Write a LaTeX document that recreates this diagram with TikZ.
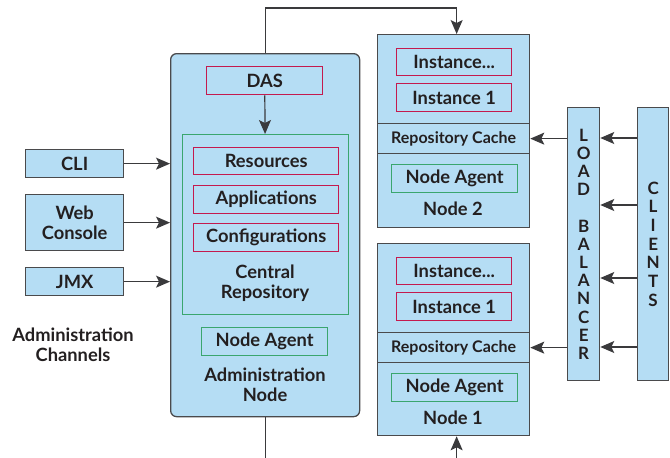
\documentclass[tikz,border=0pt]{standalone}
\usepackage{fontspec}
\setmainfont{Lato}
\usetikzlibrary{arrows.meta}
\definecolor{boxc}{HTML}{B5DDF4}
\definecolor{bordc}{HTML}{4A4A4C}
\definecolor{redc}{HTML}{C41A4E}
\definecolor{greenc}{HTML}{3AA66E}
\definecolor{txtc}{HTML}{231F20}
\definecolor{linec}{HTML}{3A3A3C}
\begin{document}
\begin{tikzpicture}[x=1pt,y=-1pt,
  lbl/.style={text=txtc,font=\bfseries\fontsize{18.3}{20}\selectfont,align=center,inner sep=0pt},
  outer/.style={draw=bordc,fill=boxc,line width=1.3pt,anchor=north west,inner sep=0pt,lbl},
  redbox/.style={draw=redc,fill=boxc,line width=1.4pt,anchor=north west,inner sep=0pt,lbl},
  greenbox/.style={draw=greenc,fill=boxc,line width=1.4pt,anchor=north west,inner sep=0pt,lbl},
  cachebox/.style={draw=bordc,fill=boxc,line width=1.3pt,anchor=north west,inner sep=0pt,lbl,font=\bfseries\fontsize{16}{18}\selectfont},
  arr/.style={draw=linec,line width=1.2pt,-{Stealth[length=14pt,width=12pt,inset=3pt]}},
  plain/.style={draw=linec,line width=1.2pt}]
\useasboundingbox (0,0) rectangle (670,458);

% Administration node
\node[outer,rounded corners=6pt,minimum width=189,minimum height=363] (admin) at (170,53) {};
\node[redbox,minimum width=116,minimum height=28] (das) at (206,66) {DAS};
\node[greenbox,minimum width=166,minimum height=180] (cr) at (182,134) {};
\node[redbox,minimum width=145,minimum height=27] (res) at (193,147) {Resources};
\node[redbox,minimum width=145,minimum height=28] (app) at (193,185) {Applications};
\node[redbox,minimum width=145,minimum height=28] (conf) at (193,223) {Configurations};
\node[lbl] (crlbl) at (265,283) {Central\\Repository};
\node[greenbox,minimum width=126,minimum height=28] (naadm) at (201,327) {Node Agent};
\node[lbl] (admlbl) at (265,385) {Administration\\Node};

% Channels
\node[outer,minimum width=98,minimum height=28] (cli) at (25,149) {CLI};
\node[outer,minimum width=98,minimum height=56] (web) at (25,194) {Web\\Console};
\node[outer,minimum width=98,minimum height=28] (jmx) at (25,267) {JMX};
\node[lbl] (chlbl) at (73,345) {Administration\\Channels};

% Node 2
\node[outer,minimum width=152,minimum height=193] (node2) at (377,34) {};
\node[redbox,minimum width=115,minimum height=27] (inst2a) at (396,48) {Instance...};
\node[redbox,minimum width=115,minimum height=28] (inst2b) at (396,83) {Instance 1};
\node[cachebox,minimum width=152,minimum height=30] (rc2) at (377,123) {Repository Cache};
\node[greenbox,minimum width=126,minimum height=28] (na2) at (391,164) {Node Agent};
\node[lbl] (n2lbl) at (453,209) {Node 2};

% Node 1
\node[outer,minimum width=152,minimum height=192] (node1) at (377,243) {};
\node[redbox,minimum width=115,minimum height=27] (inst1a) at (396,257) {Instance...};
\node[redbox,minimum width=115,minimum height=28] (inst1b) at (396,292) {Instance 1};
\node[cachebox,minimum width=152,minimum height=30] (rc1) at (377,332) {Repository Cache};
\node[greenbox,minimum width=126,minimum height=28] (na1) at (391,373) {Node Agent};
\node[lbl] (n1lbl) at (453,418) {Node 1};

% Load balancer and clients
\node[outer,minimum width=32,minimum height=273] (lb) at (567,107) {};
\node[lbl,font=\bfseries\fontsize{17}{18.2}\selectfont] (lbtxt) at (lb.center) {L\\O\\A\\D\\~\\B\\A\\L\\A\\N\\C\\E\\R};
\node[outer,minimum width=31,minimum height=273] (cl) at (637,107) {};
\node[lbl,font=\bfseries\fontsize{17}{18.7}\selectfont] (cltxt) at (cl.center) {C\\L\\I\\E\\N\\T\\S};

% coordinates
\coordinate (ty) at (0,8);
\coordinate (by) at (0,460);
\coordinate (y1) at (0,138);
\coordinate (y2) at (0,205);
\coordinate (y3) at (0,278);
\coordinate (y4) at (0,347);
\coordinate (n2top) at ([xshift=3pt]node2.north);
\coordinate (n1bot) at ([xshift=3pt]node1.south);

% connectors
\draw[arr] (admin.north) -- (admin.north |- ty) -| (n2top);
\draw[arr] (das) -- (cr);
\draw[arr] (cli) -- (cli -| admin.west);
\draw[arr] (web) -- (web -| admin.west);
\draw[arr] (jmx) -- (jmx -| admin.west);
\draw[plain] (admin.south) -- (admin.south |- by);
\draw[arr] (n1bot |- by) -- (n1bot);
\draw[arr] (lb.west |- rc2) -- (rc2.east);
\draw[arr] (lb.west |- rc1) -- (rc1.east);
\draw[arr] (cl.west |- y1) -- (lb.east |- y1);
\draw[arr] (cl.west |- y2) -- (lb.east |- y2);
\draw[arr] (cl.west |- y3) -- (lb.east |- y3);
\draw[arr] (cl.west |- y4) -- (lb.east |- y4);
\end{tikzpicture}
\end{document}
